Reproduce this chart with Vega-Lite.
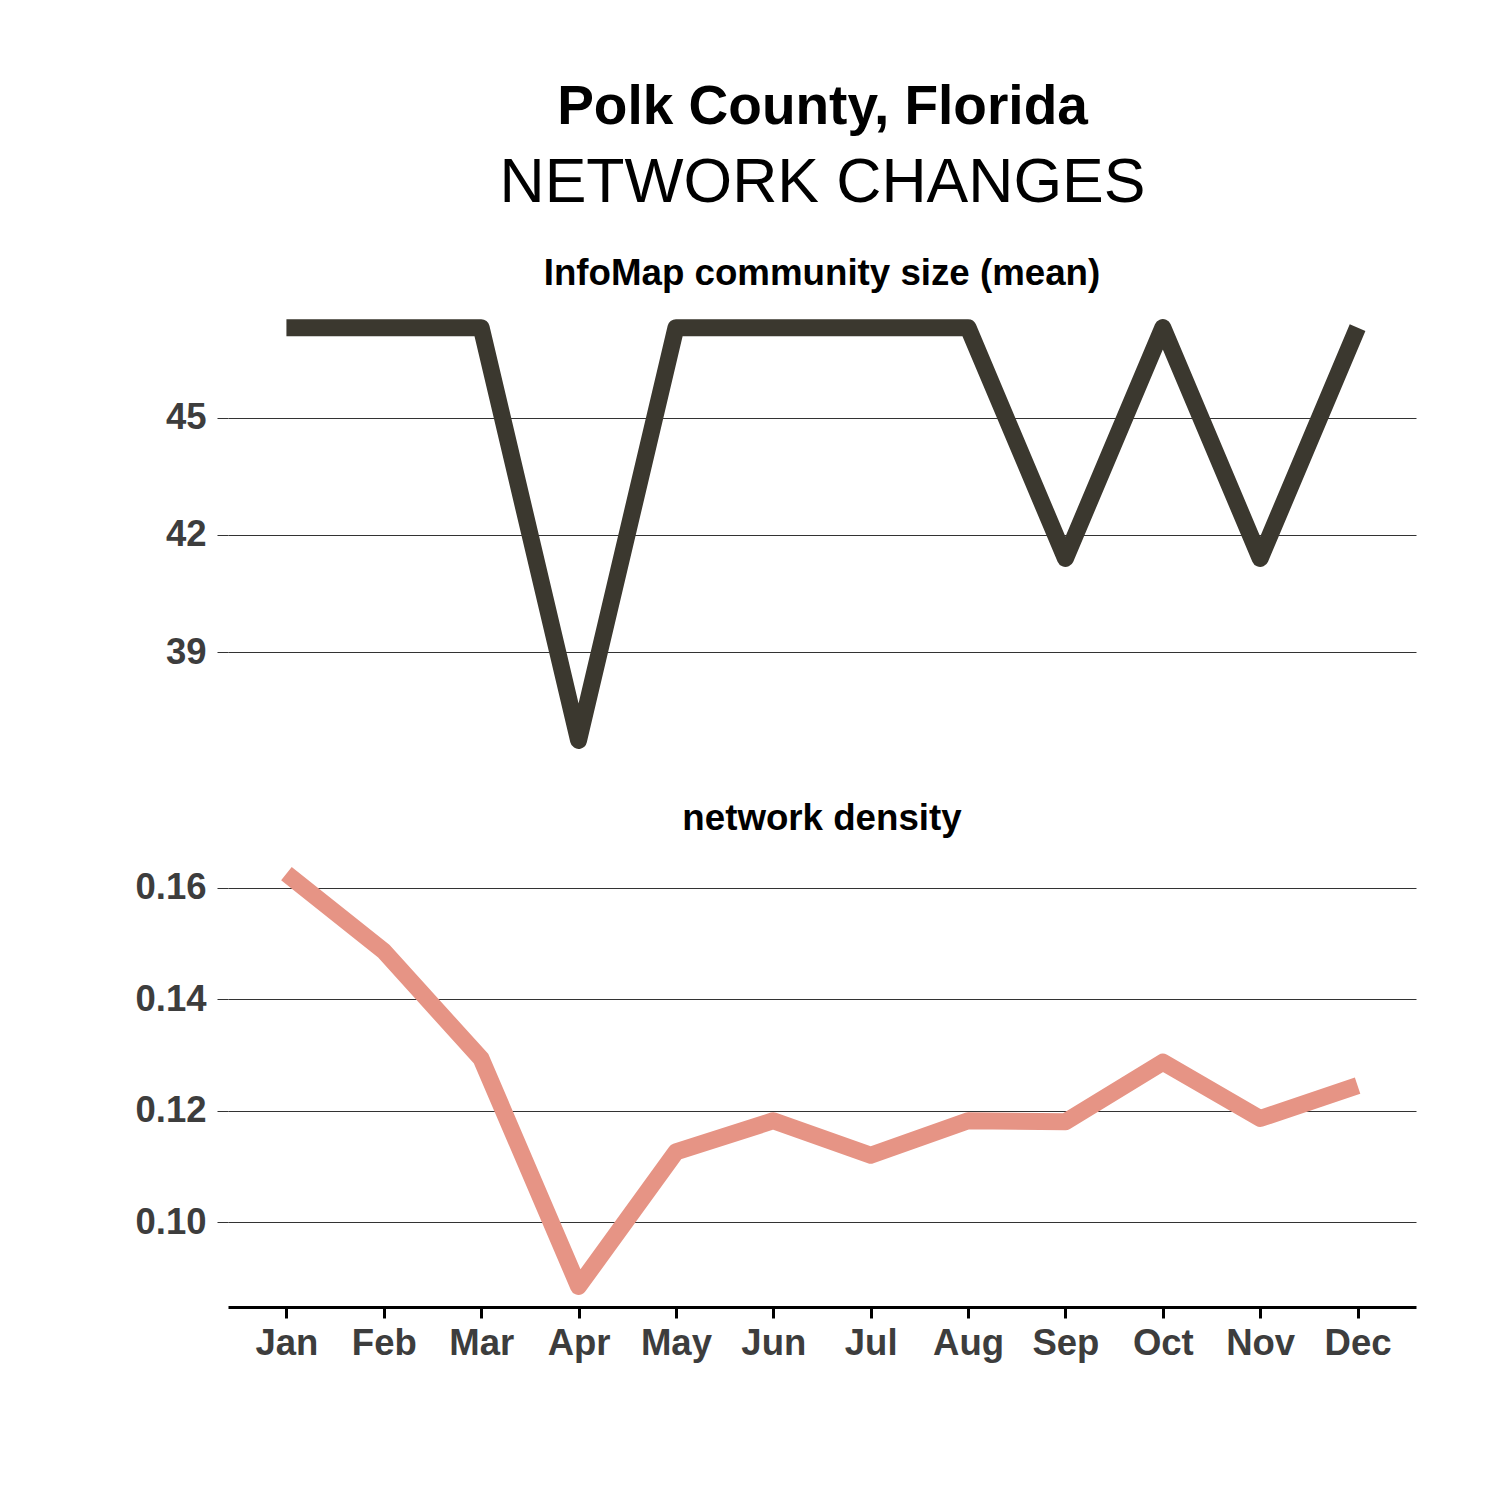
{
  "$schema": "https://vega.github.io/schema/vega-lite/v6.json",
  "background": "white",
  "padding": {"left": 134, "top": 79, "right": 5, "bottom": 5},
  "title": {
    "text": "Polk County, Florida",
    "subtitle": "NETWORK CHANGES",
    "font": "Liberation Sans",
    "fontSize": 55,
    "fontWeight": "bold",
    "color": "#000000",
    "subtitleFont": "Liberation Sans",
    "subtitleFontSize": 62.5,
    "subtitleFontWeight": "normal",
    "subtitleColor": "#000000",
    "subtitlePadding": 17,
    "anchor": "middle",
    "dx": 47,
    "offset": 41
  },
  "datasets": {
    "monthly": [
      {"month": "Jan", "community": 47.3, "density": 0.1625},
      {"month": "Feb", "community": 47.3, "density": 0.1486},
      {"month": "Mar", "community": 47.3, "density": 0.1293},
      {"month": "Apr", "community": 36.75, "density": 0.0885},
      {"month": "May", "community": 47.3, "density": 0.1126},
      {"month": "Jun", "community": 47.3, "density": 0.1182},
      {"month": "Jul", "community": 47.3, "density": 0.1120},
      {"month": "Aug", "community": 47.3, "density": 0.1182},
      {"month": "Sep", "community": 41.4, "density": 0.1180},
      {"month": "Oct", "community": 47.3, "density": 0.1287},
      {"month": "Nov", "community": 41.4, "density": 0.1186},
      {"month": "Dec", "community": 47.3, "density": 0.1245}
    ]
  },
  "spacing": 40,
  "vconcat": [
    {
      "width": 1188,
      "height": 454,
      "data": {"name": "monthly"},
      "title": {"text": "InfoMap community size (mean)", "offset": 14},
      "mark": {"type": "line", "color": "#3b382f", "strokeWidth": 17, "strokeCap": "butt", "strokeJoin": "round", "clip": false},
      "encoding": {
        "x": {
          "field": "month", "type": "ordinal",
          "sort": ["Jan","Feb","Mar","Apr","May","Jun","Jul","Aug","Sep","Oct","Nov","Dec"],
          "scale": {"type": "point", "padding": 0.6},
          "axis": null
        },
        "y": {
          "field": "community", "type": "quantitative",
          "scale": {"domain": [36.2225, 47.8275], "nice": false, "zero": false},
          "axis": {"values": [39, 42, 45], "title": null, "format": "d"}
        }
      }
    },
    {
      "width": 1188,
      "height": 454,
      "data": {"name": "monthly"},
      "title": {"text": "network density", "offset": 15},
      "mark": {"type": "line", "color": "#e69485", "strokeWidth": 17, "strokeCap": "butt", "strokeJoin": "round", "clip": false},
      "encoding": {
        "x": {
          "field": "month", "type": "ordinal",
          "sort": ["Jan","Feb","Mar","Apr","May","Jun","Jul","Aug","Sep","Oct","Nov","Dec"],
          "scale": {"type": "point", "padding": 0.6},
          "axis": {
            "title": null, "labelAngle": 0, "grid": false,
            "domain": true, "domainColor": "#000000", "domainWidth": 3,
            "ticks": true, "tickColor": "#000000", "tickWidth": 3, "tickSize": 11,
            "labelPadding": 7
          }
        },
        "y": {
          "field": "density", "type": "quantitative",
          "scale": {"domain": [0.0848, 0.1662], "nice": false, "zero": false},
          "axis": {"values": [0.10, 0.12, 0.14, 0.16], "title": null, "format": ".2f"}
        }
      }
    }
  ],
  "config": {
    "font": "Liberation Sans",
    "view": {"stroke": null},
    "title": {"font": "Liberation Sans", "fontSize": 36.7, "fontWeight": "bold", "color": "#000000", "anchor": "middle"},
    "axis": {
      "labelFont": "Liberation Sans",
      "labelFontSize": 36.5,
      "labelFontWeight": "bold",
      "labelColor": "#3d3d3d"
    },
    "axisY": {
      "domain": false,
      "grid": true,
      "gridColor": "#333333",
      "gridWidth": 1,
      "gridOpacity": 1,
      "ticks": true,
      "tickColor": "#333333",
      "tickWidth": 1,
      "tickSize": 11,
      "labelPadding": 11
    }
  }
}
